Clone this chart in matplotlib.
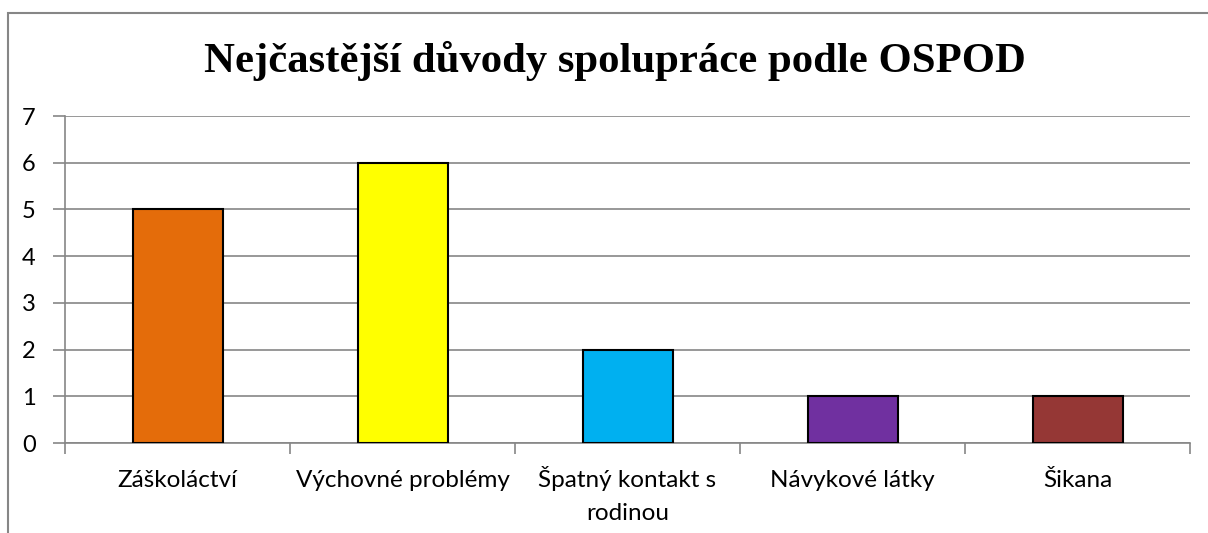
import matplotlib
matplotlib.use("Agg")
import matplotlib.pyplot as plt
from matplotlib.patches import Rectangle
import matplotlib.transforms as mtransforms
import numpy as np

categories = ["Záškoláctví", "Výchovné problémy", "Špatný kontakt s\nrodinou", "Návykové látky", "Šikana"]
values = [5, 6, 2, 1, 1]
colors = ["#E46C0A", "#FFFF00", "#00B0F0", "#7030A0", "#953735"]
yticks = [0, 1, 2, 3, 4, 5, 6, 7]
title = "Nejčastější důvody spolupráce podle OSPOD"

W, H = 1208, 533
fig = plt.figure(figsize=(W / 100, H / 100), dpi=100)
fig.patch.set_facecolor("white")

# outer chart border
fig.patches.append(Rectangle((8 / W, -0.1), 1.2, 1 - 13 / H + 0.1, transform=fig.transFigure,
                             fill=False, edgecolor="#868686", linewidth=1.5, zorder=0))

ax = fig.add_axes([65 / W, 1 - 443 / H, (1190 - 65) / W, (443 - 116) / H])
x = np.arange(len(categories))
ax.bar(x, values, width=0.4, color=colors, edgecolor="black", linewidth=1.5, zorder=3)

ax.set_xlim(-0.5, len(categories) - 0.5)
ax.set_ylim(0, 7)
ax.set_yticks(yticks)
ax.set_yticklabels([str(v) for v in yticks], fontfamily="Lato", fontsize=17)

# category labels: each line baseline-aligned
ax.set_xticks(x)
ax.set_xticklabels([])
ax.tick_params(axis="x", which="major", length=0)
base = ax.get_xaxis_transform()
for xi, lab in zip(x, categories):
    for k, line in enumerate(lab.split("\n")):
        off = mtransforms.ScaledTranslation(0, -(44 + 33 * k) / 100, fig.dpi_scale_trans)
        ax.text(xi, 0, line, transform=base + off, ha="center", va="baseline",
                fontfamily="Lato", fontsize=17.5, clip_on=False)

ax.set_xticks(np.arange(-0.5, len(categories), 1), minor=True)
ax.tick_params(axis="x", which="minor", length=8, color="#868686", width=1.2)
ax.tick_params(axis="y", length=9, color="#868686", width=1.2, pad=12)

ax.grid(axis="y", color="#868686", linewidth=1.2, zorder=0)
ax.set_axisbelow(True)
for s in ["top", "right"]:
    ax.spines[s].set_visible(False)
for s in ["left", "bottom"]:
    ax.spines[s].set_color("#868686")
    ax.spines[s].set_linewidth(1.2)

fig.text(615 / W, 1 - 61 / H, title, ha="center", va="center",
         fontfamily="Liberation Serif", fontweight="bold", fontsize=30.8)

fig.savefig("out.png", dpi=100, facecolor="white")
